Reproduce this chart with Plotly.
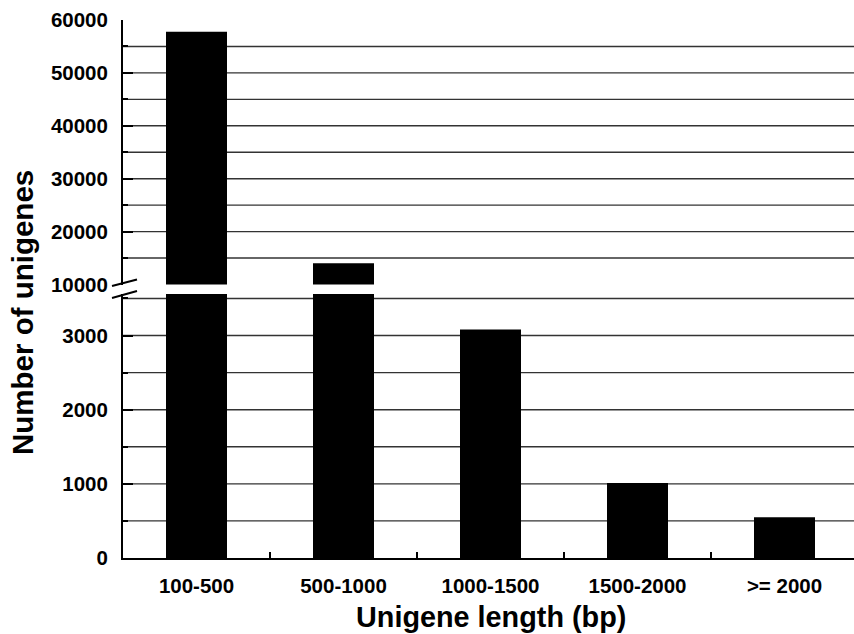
import plotly.graph_objects as go

categories = ["100-500", "500-1000", "1000-1500", "1500-2000", ">= 2000"]
counts = [57800, 14000, 3080, 1010, 550]

lower_ticks = [0, 1000, 2000, 3000]
lower_labels = ["0", "1000", "2000", "3000"]
upper_ticks = [10000, 20000, 30000, 40000, 50000, 60000]
upper_labels = ["10000", "20000", "30000", "40000", "50000", "60000"]
lower_grid = [500, 1000, 1500, 2000, 2500, 3000, 3500]
upper_grid = [15000, 20000, 25000, 30000, 35000, 40000, 45000, 50000, 55000]

FONT = "Liberation Sans, Arial, sans-serif"
L, T, W, H = 123, 20, 854, 634
PW, PH = W - L, 558 - T


def px(x):
    return (x - L) / PW


def py(y):
    return (558 - y) / PH


fig = go.Figure()
fig.add_trace(go.Bar(x=categories, y=counts, xaxis="x", yaxis="y",
                     marker=dict(color="black", line=dict(width=0)), width=0.415))
fig.add_trace(go.Bar(x=categories, y=counts, xaxis="x", yaxis="y2",
                     marker=dict(color="black", line=dict(width=0)), width=0.415))

shapes = []
for g in lower_grid:
    shapes.append(dict(type="line", xref="paper", yref="y", x0=0, x1=1, y0=g, y1=g,
                       line=dict(color="#333", width=1.4), layer="below"))
for g in upper_grid:
    shapes.append(dict(type="line", xref="paper", yref="y2", x0=0, x1=1, y0=g, y1=g,
                       line=dict(color="#333", width=1.4), layer="below"))
# axis break marks
shapes.append(dict(type="line", xref="paper", yref="paper", x0=px(112), x1=px(137),
                   y0=py(286), y1=py(279.5), line=dict(color="black", width=2)))
shapes.append(dict(type="line", xref="paper", yref="paper", x0=px(112), x1=px(137),
                   y0=py(298), y1=py(291), line=dict(color="black", width=2)))

ytickfont = dict(family=FONT, size=20.5, color="black", weight="bold")
xtickfont = dict(family=FONT, size=20.5, color="black", weight="bold")
lower_top = 3560
ydom_lower = [0, py(294)]
ydom_upper = [py(284.5), 1]

fig.update_layout(
    width=W, height=H,
    margin=dict(l=L, r=0, t=T, b=H - 558),
    plot_bgcolor="white", paper_bgcolor="white",
    showlegend=False, barmode="overlay",
    shapes=shapes,
    xaxis=dict(type="category", range=[-0.5, -0.5 + PW / 147.0], anchor="y",
               showline=True, linecolor="black", linewidth=2, automargin=False,
               ticks="inside", tickson="boundaries", ticklen=6, tickwidth=2, tickcolor="black",
               showgrid=False, tickfont=xtickfont, ticklabelstandoff=8),
    yaxis=dict(domain=ydom_lower, range=[0, lower_top], anchor="x", automargin=False,
               tickvals=lower_ticks, ticktext=lower_labels,
               ticks="inside", ticklen=10, tickwidth=2, tickcolor="black",
               minor=dict(dtick=500, tick0=0, ticks="inside", ticklen=5, tickwidth=2, tickcolor="black", showgrid=False),
               showline=True, linecolor="black", linewidth=2, showgrid=False, zeroline=False,
               tickfont=ytickfont, ticklabelstandoff=9),
    yaxis2=dict(domain=ydom_upper, range=[10000, 60000], anchor="x", automargin=False,
                tickvals=upper_ticks, ticktext=upper_labels,
                ticks="inside", ticklen=10, tickwidth=2, tickcolor="black",
                minor=dict(dtick=5000, tick0=0, ticks="inside", ticklen=5, tickwidth=2, tickcolor="black", showgrid=False),
                showline=True, linecolor="black", linewidth=2, showgrid=False, zeroline=False,
                tickfont=ytickfont, ticklabelstandoff=9),
    annotations=[
        dict(text="Number of unigenes", xref="paper", yref="paper", x=px(23), y=py(313),
             textangle=-90, showarrow=False, xanchor="center", yanchor="middle",
             font=dict(family=FONT, size=29.5, color="black", weight="bold")),
        dict(text="Unigene length (bp)", xref="paper", yref="paper", x=px(491), y=py(617),
             showarrow=False, xanchor="center", yanchor="middle",
             font=dict(family=FONT, size=28.8, color="black", weight="bold")),
    ],
)

fig.write_html("out.html", config={"displayModeBar": False},
               post_script="document.body.style.margin='0';document.body.style.overflow='hidden';")
